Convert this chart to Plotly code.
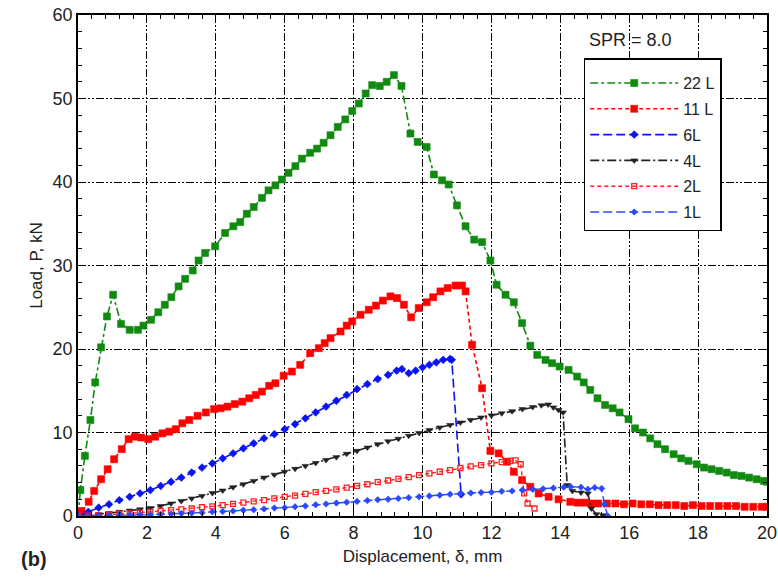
import plotly.graph_objects as go

# Load–displacement curves, SPR = 8.0
d_22 = [0, 0.07, 0.2, 0.36, 0.5, 0.67, 0.84, 1.02, 1.25, 1.5, 1.74, 1.9, 2.12, 2.33, 2.52, 2.71,
        2.92, 3.11, 3.33, 3.5, 3.69, 3.98, 4.27, 4.51, 4.71, 4.9, 5.1, 5.34, 5.53, 5.73, 5.92,
        6.11, 6.31, 6.5, 6.74, 6.94, 7.13, 7.33, 7.54, 7.76, 7.96, 8.15, 8.35, 8.54, 8.76, 8.96,
        9.17, 9.39, 9.65, 9.86, 10.12, 10.33, 10.57, 10.76, 11.0, 11.25, 11.5, 11.73, 11.97,
        12.15, 12.41, 12.65, 12.89, 13.13, 13.33, 13.57, 13.76, 13.98, 14.24, 14.49, 14.68,
        14.87, 15.08, 15.3, 15.52, 15.72, 15.98, 16.17, 16.4, 16.61, 16.82, 17.04, 17.29,
        17.51, 17.72, 17.96, 18.17, 18.39, 18.61, 18.83, 19.04, 19.26, 19.48, 19.7, 19.91, 20.0]
p_22 = [0, 3.1, 7.2, 11.5, 16.0, 20.2, 23.9, 26.5, 23.0, 22.3, 22.3, 22.8, 23.5, 24.4, 25.3, 26.2,
        27.5, 28.4, 29.4, 30.6, 31.5, 32.3, 33.9, 34.7, 35.2, 36.2, 37.0, 38.1, 39.0, 39.6, 40.3,
        41.1, 41.9, 42.8, 43.5, 44.0, 44.7, 45.6, 46.6, 47.5, 48.5, 49.4, 50.6, 51.6, 51.5, 52.0,
        52.8, 51.5, 45.8, 44.8, 44.2, 40.9, 40.2, 39.7, 37.2, 34.7, 33.1, 32.8, 30.6,
        27.7, 26.5, 25.6, 23.1, 20.4, 19.3, 18.7, 18.3, 17.9, 17.5, 16.7, 16.0,
        15.1, 14.1, 13.3, 12.9, 12.4, 11.6, 10.5, 10.0, 9.3, 8.6, 8.0, 7.4,
        6.9, 6.6, 6.2, 5.8, 5.6, 5.4, 5.2, 4.9, 4.8, 4.6, 4.4, 4.2, 4.1]

d_11 = [0, 0.1, 0.31, 0.47, 0.67, 0.86, 1.05, 1.27, 1.47, 1.65, 1.83, 2.04, 2.24, 2.45, 2.65, 2.84,
        3.03, 3.23, 3.47, 3.71, 3.95, 4.14, 4.34, 4.55, 4.77, 4.97, 5.16, 5.34, 5.55, 5.73, 5.97,
        6.21, 6.45, 6.74, 6.99, 7.16, 7.33, 7.62, 7.8, 7.96, 8.2, 8.44, 8.65, 8.85, 9.07, 9.26,
        9.46, 9.67, 9.89, 10.12, 10.31, 10.52, 10.73, 10.96, 11.15, 11.25, 11.44, 11.73, 11.97,
        12.21, 12.45, 12.65, 12.89, 13.13, 13.37, 13.66, 13.95, 14.29, 14.5, 14.7, 14.9, 15.1,
        15.35, 15.6, 15.85, 16.1, 16.35, 16.6, 16.85, 17.1, 17.35, 17.6, 17.85, 18.1, 18.35,
        18.6, 18.85, 19.1, 19.35, 19.6, 19.85, 20.0]
p_11 = [0, 0.6, 1.7, 3.0, 4.4, 5.6, 6.8, 8.0, 9.2, 9.5, 9.4, 9.2, 9.5, 9.9, 10.1, 10.4,
        11.1, 11.5, 12.0, 12.4, 12.8, 12.9, 13.1, 13.4, 13.7, 14.1, 14.5, 14.9, 15.6, 15.9, 16.8,
        17.3, 18.1, 19.5, 20.1, 20.7, 21.3, 22.1, 22.8, 23.3, 24.1, 24.7, 25.2, 25.8, 26.3, 26.1,
        25.3, 23.8, 24.9, 25.6, 26.2, 26.9, 27.3, 27.6, 27.6, 26.9, 20.5, 15.3, 7.8,
        7.5, 6.5, 5.3, 4.3, 3.5, 2.7, 2.3, 2.0, 1.7, 1.6, 1.6, 1.5, 1.5,
        1.5, 1.5, 1.4, 1.5, 1.4, 1.4, 1.3, 1.3, 1.3, 1.2, 1.3, 1.2, 1.2,
        1.2, 1.2, 1.2, 1.1, 1.1, 1.1, 1.1]

d_6 = [0, 0.3, 0.6, 0.9, 1.2, 1.5, 1.8, 2.1, 2.4, 2.7, 3.0, 3.3, 3.6, 3.9, 4.2, 4.5, 4.8, 5.1,
       5.4, 5.7, 6.0, 6.3, 6.6, 6.9, 7.2, 7.5, 7.8, 8.1, 8.4, 8.7, 9.0, 9.25, 9.4, 9.6, 9.8,
       10.0, 10.2, 10.4, 10.6, 10.8, 10.85, 11.12]
p_6 = [0, 0.5, 1.0, 1.4, 1.9, 2.3, 2.7, 3.1, 3.6, 4.1, 4.6, 5.2, 5.8, 6.3, 6.9, 7.5, 8.1, 8.7,
       9.3, 9.8, 10.4, 11.0, 11.7, 12.4, 13.1, 13.8, 14.5, 15.2, 15.8, 16.4, 16.9, 17.4, 17.6,
       17.1, 17.4, 17.8, 18.1, 18.4, 18.7, 18.8, 18.7, 2.6]

d_4 = [0, 0.3, 0.6, 0.9, 1.2, 1.5, 1.8, 2.1, 2.4, 2.7, 3.0, 3.3, 3.6, 3.9, 4.2, 4.5, 4.8, 5.1,
       5.4, 5.7, 6.0, 6.3, 6.6, 6.9, 7.2, 7.5, 7.8, 8.1, 8.4, 8.7, 9.0, 9.3, 9.6, 9.9, 10.2,
       10.5, 10.8, 11.1, 11.4, 11.7, 12.0, 12.3, 12.6, 12.9, 13.2, 13.45, 13.65, 13.8, 13.95,
       14.08, 14.2, 14.35, 14.6, 14.8, 14.9, 15.05, 15.25]
p_4 = [0, 0.1, 0.2, 0.35, 0.5, 0.65, 0.8, 0.95, 1.2, 1.5, 1.8, 2.1, 2.4, 2.75, 3.05, 3.45, 3.8,
       4.2, 4.6, 4.95, 5.3, 5.65, 6.0, 6.35, 6.7, 7.05, 7.45, 7.8, 8.2, 8.6, 8.95, 9.25, 9.6,
       9.95, 10.3, 10.6, 10.9, 11.2, 11.5, 11.8, 12.05, 12.3, 12.55, 12.8, 13.05, 13.25, 13.35,
       13.0, 12.7, 12.4, 3.7, 3.0, 2.8, 2.7, 0.9, 0.2, 0.1]

d_2 = [0, 0.3, 0.6, 0.9, 1.2, 1.5, 1.8, 2.1, 2.4, 2.7, 3.0, 3.3, 3.6, 3.9, 4.2, 4.5, 4.8, 5.1,
       5.4, 5.7, 6.0, 6.3, 6.6, 6.9, 7.2, 7.5, 7.8, 8.1, 8.4, 8.7, 9.0, 9.3, 9.6, 9.9, 10.2,
       10.5, 10.8, 11.1, 11.4, 11.7, 12.0, 12.3, 12.55, 12.7, 12.85, 12.95, 13.05, 13.25]
p_2 = [0, 0.05, 0.1, 0.15, 0.25, 0.3, 0.4, 0.5, 0.6, 0.7, 0.8, 0.9, 1.05, 1.15, 1.3, 1.45, 1.6,
       1.75, 1.9, 2.1, 2.3, 2.45, 2.65, 2.85, 3.0, 3.2, 3.4, 3.6, 3.8, 4.05, 4.25, 4.45, 4.65,
       4.9, 5.1, 5.3, 5.5, 5.75, 5.95, 6.1, 6.3, 6.45, 6.6, 6.65, 6.2, 2.7, 1.5, 0.9]

d_1 = [0, 0.3, 0.6, 0.9, 1.2, 1.5, 1.8, 2.1, 2.4, 2.7, 3.0, 3.3, 3.6, 3.9, 4.2, 4.5, 4.8, 5.1,
       5.4, 5.7, 6.0, 6.3, 6.6, 6.9, 7.2, 7.5, 7.8, 8.1, 8.4, 8.7, 9.0, 9.3, 9.6, 9.9, 10.2,
       10.5, 10.8, 11.1, 11.4, 11.7, 12.0, 12.3, 12.6, 12.9, 13.2, 13.5, 13.8, 14.1, 14.3,
       14.6, 14.8, 15.0, 15.2, 15.28, 15.38]
p_1 = [0, 0.0, 0.05, 0.05, 0.1, 0.1, 0.15, 0.15, 0.2, 0.25, 0.3, 0.35, 0.4, 0.5, 0.55, 0.6,
       0.7, 0.75, 0.85, 0.95, 1.0, 1.1, 1.2, 1.35, 1.45, 1.55, 1.65, 1.75, 1.85, 1.95, 2.0,
       2.1, 2.2, 2.3, 2.4, 2.5, 2.6, 2.7, 2.75, 2.8, 2.85, 2.95, 3.0, 3.1, 3.2, 3.25, 3.35,
       3.45, 3.5, 3.45, 3.2, 3.4, 3.3, 1.4, 0]

x_ticks = [0, 2, 4, 6, 8, 10, 12, 14, 16, 18, 20]
y_ticks = [0, 10, 20, 30, 40, 50, 60]

FONT = "Liberation Sans, Arial, sans-serif"
TXT = "#222"

series = [
    ("22 L", d_22, p_22, "#108a10", "square", 7, "8px,3px,3px,3px", 1.6),
    ("11 L", d_11, p_11, "#ff0000", "square", 7, "4px,3px", 1.6),
    ("6L", d_6, p_6, "#0a14f0", "diamond", 6, "9px,4px", 1.6),
    ("4L", d_4, p_4, "#222222", "triangle-down", 6, "9px,3px,2px,3px", 1.6),
    ("2L", d_2, p_2, "#ff2020", "square-open", 5, "4px,3px", 1.4),
    ("1L", d_1, p_1, "#2a48ff", "diamond", 5, "9px,4px", 1.4),
]

fig = go.Figure()
for name, xs, ys, col, sym, size, dash, lw in series:
    fig.add_trace(go.Scatter(
        x=xs, y=ys, name=name, mode="lines+markers", legendgroup=name,
        line=dict(color=col, width=lw, dash=dash),
        marker=dict(symbol=sym, size=size, color=col,
                    line=dict(width=1.3 if "open" in sym else 0.6, color=col)),
    ))

axis_common = dict(
    showline=True, linecolor="black", linewidth=1.5, mirror="allticks",
    ticks="inside", ticklen=7, tickwidth=1.3, tickcolor="black",
    showgrid=True, gridcolor="black", gridwidth=1.3, griddash="8px,2px,2px,2px,2px,2px",
    zeroline=False, automargin=False,
    tickfont=dict(family=FONT, size=18, color=TXT),
)

fig.update_xaxes(
    range=[0, 20], tickvals=x_ticks, ticktext=[str(v) for v in x_ticks],
    minor=dict(dtick=0.4, ticks="inside", ticklen=4, tickcolor="black", tickwidth=1, showgrid=False),
    title=dict(text="Displacement, δ, mm", font=dict(family=FONT, size=17, color=TXT), standoff=8),
    **axis_common,
)
fig.update_yaxes(
    range=[0, 60], tickvals=y_ticks, ticktext=[str(v) for v in y_ticks],
    minor=dict(dtick=2, ticks="inside", ticklen=4, tickcolor="black", tickwidth=1, showgrid=False),
    title=dict(text="Load, P, kN", font=dict(family=FONT, size=17, color=TXT), standoff=6),
    **axis_common,
)

fig.update_layout(
    width=778, height=579,
    margin=dict(l=78, r=11, t=15, b=63),
    paper_bgcolor="white", plot_bgcolor="white",
    legend=dict(
        x=0.734, y=0.914, xanchor="left", yanchor="top",
        bgcolor="white", bordercolor="black", borderwidth=1.5,
        font=dict(family=FONT, size=16, color=TXT),
        itemwidth=88, tracegroupgap=2,
        title=dict(text=" ", font=dict(family=FONT, size=5)),
    ),
    annotations=[
        dict(text="SPR = 8.0", x=0.802, y=0.95, xref="paper", yref="paper",
             xanchor="center", yanchor="middle",
             showarrow=False, font=dict(family=FONT, size=18, color=TXT)),
        dict(text="<b>(b)</b>", x=-0.085, y=-0.085, xref="paper", yref="paper",
             xanchor="left", yanchor="middle", showarrow=False,
             font=dict(family=FONT, size=20, color=TXT)),
    ],
)

fig.write_html("out.html")
